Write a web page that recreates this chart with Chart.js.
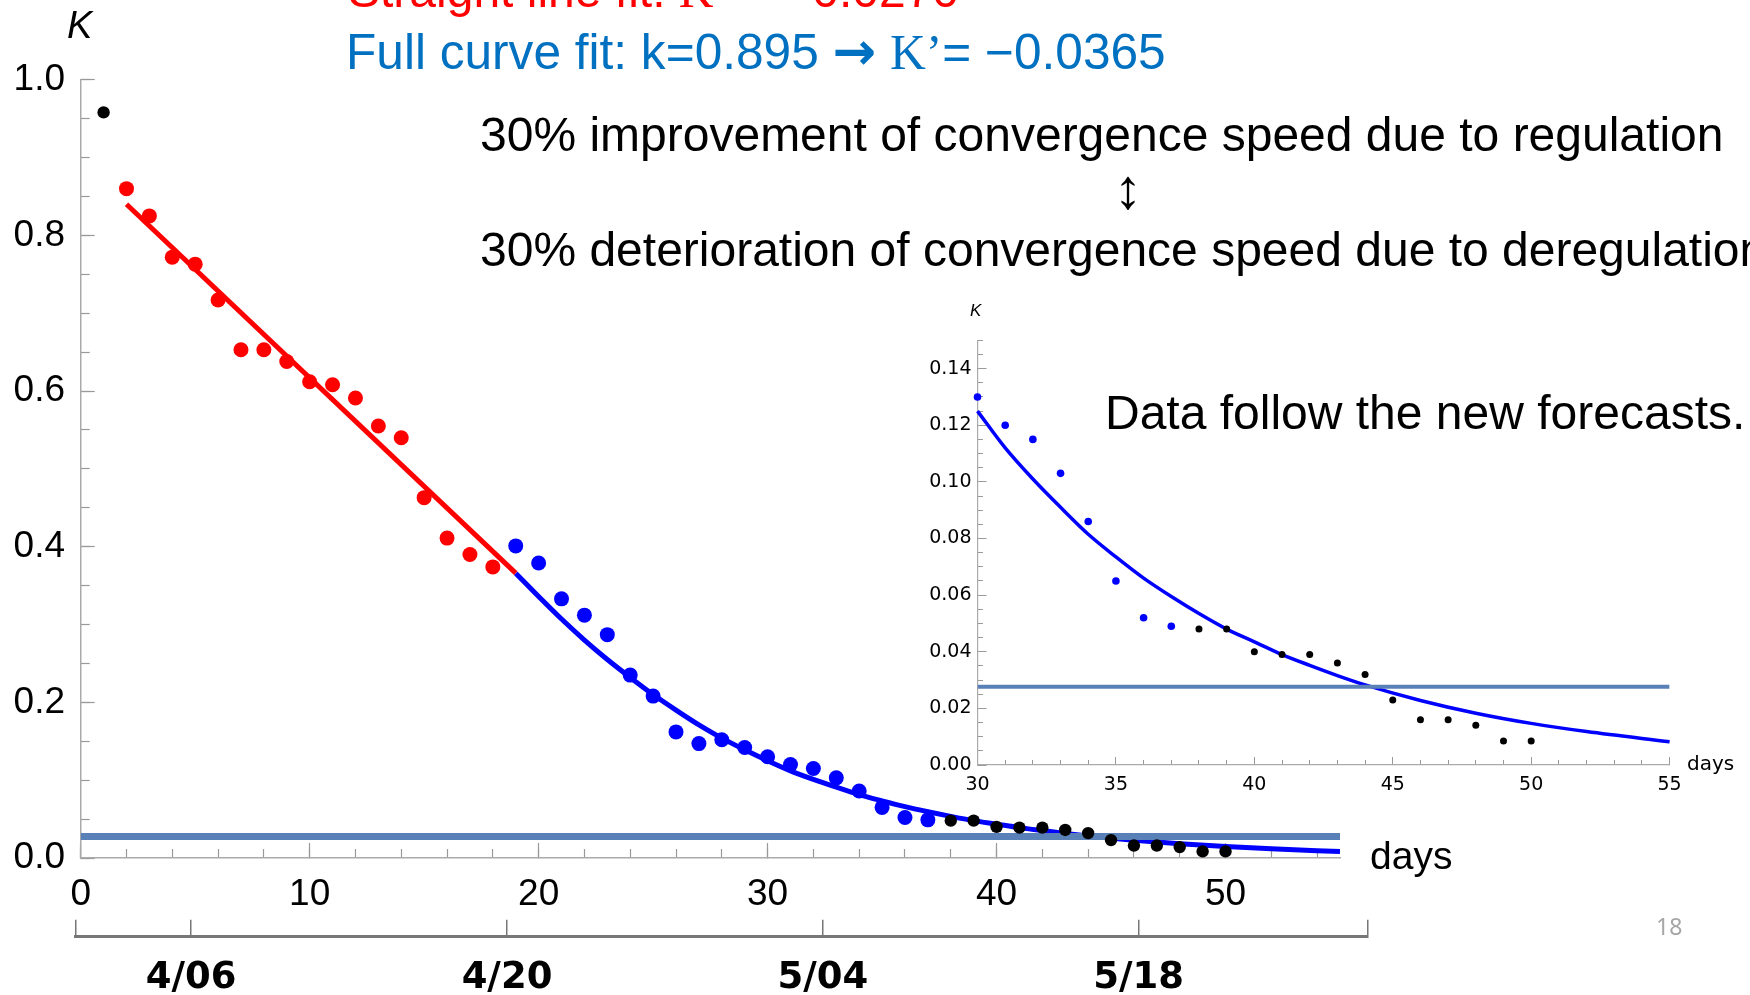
<!DOCTYPE html>
<html>
<head>
<meta charset="utf-8">
<script src="https://cdn.jsdelivr.net/npm/chart.js@4/dist/chart.umd.min.js"></script>
<style>
  html, body { margin: 0; padding: 0; background: #fff; }
  body { width: 1750px; height: 995px; position: relative; overflow: hidden; }
  canvas { position: absolute; }
  .t { position: absolute; white-space: nowrap; font-family: 'Liberation Sans', Arial, sans-serif; line-height: 1; color: #000; }
  .t span { line-height: 0; }
  .serif { font-family: 'Liberation Serif', 'Times New Roman', serif; }
  .arr { font-family: 'DejaVu Sans', sans-serif; font-weight: bold; font-size: 1.05em; }
</style>
</head>
<body>
<canvas id="main" width="1750" height="995" style="left:0;top:0"></canvas>
<canvas id="inset" width="870" height="530" style="left:880px;top:290px"></canvas>
<canvas id="dates" width="1750" height="95" style="left:0;top:900px"></canvas>

<div class="t" style="left:348px; top:-32.6px; font-size:48px; color:#ff0000">Straight line fit: <span class="serif">K’</span> = −0.0270</div>
<div class="t" style="left:346px; top:28px; font-size:49.6px; color:#0070c0">Full curve fit: k=0.895 <span class="arr">→</span> <span class="serif">K’</span>= −0.0365</div>
<div class="t" style="left:480px; top:111.1px; font-size:48px">30% improvement of convergence speed due to regulation</div>
<div class="t" style="left:1114px; top:160.7px; font-size:56px">↕</div>
<div class="t" style="left:480px; top:226.1px; font-size:48px">30% deterioration of convergence speed due to deregulation</div>
<div class="t" style="left:1105px; top:388.7px; font-size:48px">Data follow the new forecasts.</div>
<div class="t" style="left:67px; top:5.8px; font-size:38px; font-style:italic">K</div>
<div class="t" style="left:1370px; top:836px; font-size:39px">days</div>
<div class="t" style="left:970px; top:301.6px; font-size:17px; font-style:italic">K</div>
<div class="t" style="left:1687px; top:753px; font-size:20px; font-family:'DejaVu Sans', sans-serif">days</div>
<div class="t" style="left:1656px; top:914.6px; font-size:23px; font-family:'Noto Sans', sans-serif; color:#a6a6a6">18</div>

<script>
// tick positions / labels
const mainXTicks = [0, 10, 20, 30, 40, 50];
const mainYTicks = [0, 0.2, 0.4, 0.6, 0.8, 1.0];
const insetXTicks = [30, 35, 40, 45, 50, 55];
const insetYTicks = [0, 0.02, 0.04, 0.06, 0.08, 0.10, 0.12, 0.14];
const dateTicks = [5, 19, 33, 47]; // days since 4/01
const dateLabels = ['4/06', '4/20', '5/04', '5/18'];

// observed K values
const blackDays = [1, 38, 39, 40, 41, 42, 43, 44, 45, 46, 47, 48, 49, 50];
const blackK = [0.958, 0.048, 0.048, 0.040, 0.039, 0.039, 0.036, 0.032, 0.023, 0.016, 0.016, 0.014, 0.0085, 0.0085];
const redDays = [2, 3, 4, 5, 6, 7, 8, 9, 10, 11, 12, 13, 14, 15, 16, 17, 18];
const redK = [0.860, 0.825, 0.772, 0.763, 0.717, 0.653, 0.653, 0.638, 0.612, 0.608, 0.591, 0.555, 0.540, 0.463, 0.411, 0.390, 0.374];
const blueDays = [19, 20, 21, 22, 23, 24, 25, 26, 27, 28, 29, 30, 31, 32, 33, 34, 35, 36, 37];
const blueK = [0.401, 0.379, 0.333, 0.312, 0.287, 0.235, 0.208, 0.162, 0.147, 0.152, 0.142, 0.130, 0.120, 0.115, 0.103, 0.086, 0.065, 0.052, 0.049];

// fits
const lineFitDays = [2, 19];
const lineFitK = [0.840, 0.366];
const curveDays = [19, 20, 21, 22, 23, 24, 25, 26, 27, 28, 29, 30, 31, 32, 33, 34, 35, 36, 37, 38, 39, 40, 41, 42, 43, 44, 46, 48, 50, 52, 55];
const curveK = [0.366, 0.336, 0.307, 0.280, 0.255, 0.232, 0.210, 0.190, 0.171, 0.154, 0.139, 0.125, 0.112, 0.101, 0.091, 0.0815,
    0.0735, 0.066, 0.0595, 0.0535, 0.048, 0.0435, 0.039, 0.0352, 0.0316, 0.0283, 0.0228, 0.0183, 0.0147, 0.0118, 0.0082];
const thresholdK = 0.0276;

const thresholdColor = '#5a80b8';

const pts = (xs, ys) => xs.map((x, i) => ({ x: x, y: ys[i] }));
const from30 = arr => arr.filter(p => p.x >= 30);

Chart.defaults.font.family = "'Liberation Sans', Arial, sans-serif";
Chart.defaults.color = '#000';

const baseOptions = {
    responsive: false,
    animation: false,
    devicePixelRatio: 1,
    plugins: { legend: { display: false }, tooltip: { enabled: false } },
};

// main chart
new Chart(document.getElementById('main'), {
    type: 'scatter',
    data: {
        datasets: [
            { data: pts(blackDays, blackK), backgroundColor: '#000', pointRadius: 6.2, pointBorderWidth: 0, clip: false },
            { data: pts(redDays, redK), backgroundColor: '#ff0000', pointRadius: 7.5, pointBorderWidth: 0, clip: false },
            { data: pts(blueDays, blueK), backgroundColor: '#0000ff', pointRadius: 7.5, pointBorderWidth: 0, clip: false },
            {
                data: [{ x: 0, y: thresholdK }, { x: 55, y: thresholdK }],
                showLine: true, borderColor: thresholdColor, borderWidth: 7, pointRadius: 0,
            },
            { data: pts(lineFitDays, lineFitK), showLine: true, borderColor: '#ff0000', borderWidth: 5, pointRadius: 0 },
            {
                data: pts(curveDays, curveK), showLine: true, borderColor: '#0000ff', borderWidth: 5, pointRadius: 0,
                cubicInterpolationMode: 'monotone',
            },
        ],
    },
    options: {
        ...baseOptions,
        layout: { padding: { left: 0, top: 79.7, right: 410, bottom: 0 }, autoPadding: false },
        scales: {
            x: {
                type: 'linear', position: 'bottom', weight: 1, min: 0, max: 55,
                afterBuildTicks: s => { s.ticks = mainXTicks.map(v => ({ value: v })); },
                afterFit: s => { s.height = 137; },
                grid: { drawOnChartArea: false, tickLength: -15, tickColor: '#999', tickWidth: 1.2 },
                border: { color: '#aaa', width: 1.5 },
                ticks: { font: { size: 37 }, padding: 30, autoSkip: false, maxRotation: 0, callback: v => String(v) },
            },
            xMinor: {
                type: 'linear', position: 'bottom', weight: 0, min: 0, max: 55,
                afterFit: s => { s.height = 0; },
                grid: { drawOnChartArea: false, tickLength: -9, tickColor: '#999', tickWidth: 1.2 },
                border: { display: false },
                ticks: { display: false, stepSize: 2, includeBounds: false },
            },
            y: {
                type: 'linear', position: 'left', weight: 1, min: 0, max: 1,
                afterBuildTicks: s => { s.ticks = mainYTicks.map(v => ({ value: v })); },
                afterFit: s => { s.width = 80.7; },
                grid: { drawOnChartArea: false, tickLength: -14, tickColor: '#999', tickWidth: 1.2 },
                border: { color: '#aaa', width: 1.5 },
                ticks: { font: { size: 37 }, padding: 29.7, callback: v => v.toFixed(1) },
            },
            yMinor: {
                type: 'linear', position: 'left', weight: 0, min: 0, max: 1,
                afterFit: s => { s.width = 0; },
                grid: { drawOnChartArea: false, tickLength: -9, tickColor: '#999', tickWidth: 1.2 },
                border: { display: false },
                ticks: { display: false, stepSize: 0.05, includeBounds: false },
            },
        },
    },
});

// inset chart
new Chart(document.getElementById('inset'), {
    type: 'scatter',
    data: {
        datasets: [
            { data: from30(pts(blackDays, blackK)), backgroundColor: '#000', pointRadius: 3.5, pointBorderWidth: 0, clip: false },
            { data: from30(pts(blueDays, blueK)), backgroundColor: '#0000ff', pointRadius: 3.8, pointBorderWidth: 0, clip: false },
            {
                data: [{ x: 30, y: thresholdK }, { x: 55, y: thresholdK }],
                showLine: true, borderColor: thresholdColor, borderWidth: 4, pointRadius: 0,
            },
            {
                data: from30(pts(curveDays, curveK)), showLine: true, borderColor: '#0000ff', borderWidth: 3.5, pointRadius: 0,
                cubicInterpolationMode: 'monotone', clip: false,
            },
        ],
    },
    options: {
        ...baseOptions,
        layout: { padding: { left: 0, top: 50.3, right: 80.4, bottom: 0 }, autoPadding: false },
        scales: {
            x: {
                type: 'linear', position: 'bottom', weight: 1, min: 30, max: 55,
                afterBuildTicks: s => { s.ticks = insetXTicks.map(v => ({ value: v })); },
                afterFit: s => { s.height = 55; },
                grid: { drawOnChartArea: false, tickLength: -8, tickColor: '#999' },
                border: { color: '#aaa', width: 1.2 },
                ticks: { font: { family: "'DejaVu Sans', sans-serif", size: 19 }, padding: 16.6, autoSkip: false, maxRotation: 0, callback: v => String(v) },
            },
            xMinor: {
                type: 'linear', position: 'bottom', weight: 0, min: 30, max: 55,
                afterFit: s => { s.height = 0; },
                grid: { drawOnChartArea: false, tickLength: -5, tickColor: '#999' },
                border: { display: false },
                ticks: { display: false, stepSize: 1, includeBounds: false },
            },
            y: {
                type: 'linear', position: 'left', weight: 1, min: 0, max: 0.15,
                afterBuildTicks: s => { s.ticks = insetYTicks.map(v => ({ value: v })); },
                afterFit: s => { s.width = 97.5; },
                grid: { drawOnChartArea: false, tickLength: -9, tickColor: '#999' },
                border: { color: '#aaa', width: 1.2 },
                ticks: { font: { family: "'DejaVu Sans', sans-serif", size: 19 }, padding: 15, callback: v => v.toFixed(2) },
            },
            yMinor: {
                type: 'linear', position: 'left', weight: 0, min: 0, max: 0.15,
                afterFit: s => { s.width = 0; },
                grid: { drawOnChartArea: false, tickLength: -5.5, tickColor: '#999' },
                border: { display: false },
                ticks: { display: false, stepSize: 0.005, includeBounds: false },
            },
        },
    },
});

// calendar axis under the main chart
new Chart(document.getElementById('dates'), {
    type: 'scatter',
    data: { datasets: [] },
    options: {
        ...baseOptions,
        layout: { padding: { left: 75.3, top: 19.7, right: 382.3, bottom: 0 }, autoPadding: false },
        scales: {
            x: {
                type: 'linear', position: 'bottom', min: -0.14, max: 57.16,
                afterBuildTicks: s => { s.ticks = [s.min].concat(dateTicks, [s.max]).map(v => ({ value: v })); },
                afterFit: s => { s.height = 58.3; },
                grid: { drawOnChartArea: true, drawTicks: false, color: '#777', lineWidth: 1.5 },
                border: { color: '#777', width: 3 },
                ticks: {
                    font: { family: "'DejaVu Sans', sans-serif", weight: 'bold', size: 37 },
                    padding: 19, autoSkip: false, maxRotation: 0,
                    callback: v => { const i = dateTicks.indexOf(v); return i < 0 ? '' : dateLabels[i]; },
                },
            },
            y: { display: false, min: 0, max: 1 },
        },
    },
});
</script>
</body>
</html>
